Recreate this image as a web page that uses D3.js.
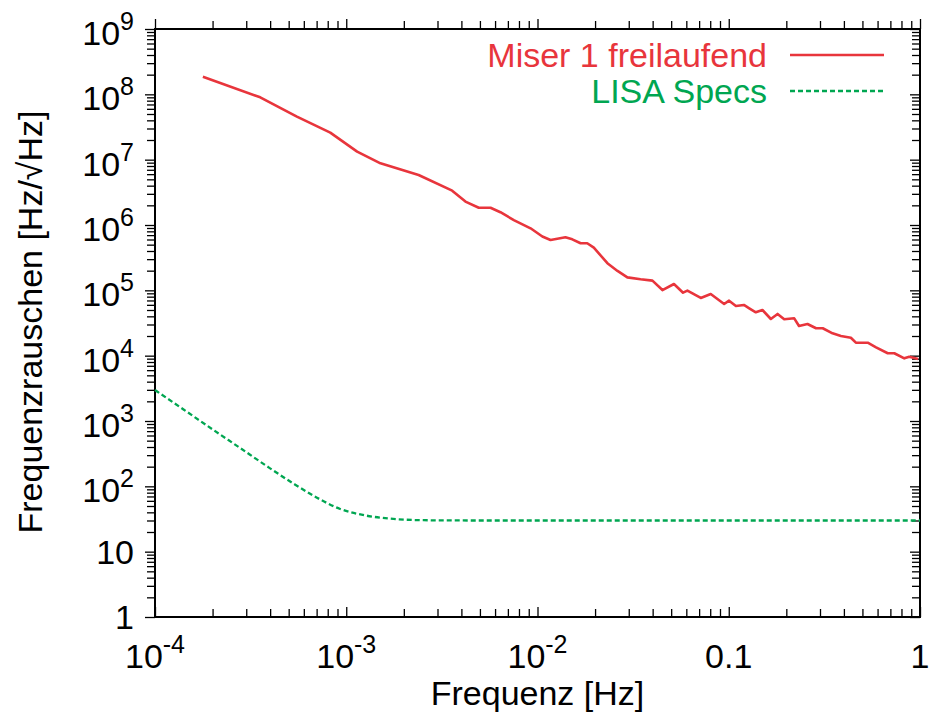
<!DOCTYPE html>
<html>
<head>
<meta charset="utf-8">
<script src="https://cdn.jsdelivr.net/npm/d3@7"></script>
<style>
  html, body { margin: 0; padding: 0; background: #fff; }
  svg { display: block; font-family: "Liberation Sans", Arial, Helvetica, sans-serif; }
</style>
</head>
<body>
<svg id="chart" width="930" height="716"></svg>
<script>
// ---- data ----
const miserFreq = [1.78e-4, 3.55e-4, 5.52e-4, 8.25e-4, 1.14e-3, 1.51e-3, 2.39e-3, 3.58e-3, 4.2e-3, 4.93e-3,
  5.68e-3, 6.4e-3, 7.52e-3, 9.2e-3, 1.06e-2, 1.17e-2, 1.40e-2, 1.52e-2, 1.68e-2, 1.82e-2,
  1.97e-2, 2.32e-2, 2.62e-2, 2.95e-2, 3.46e-2, 3.99e-2, 4.5e-2, 5.17e-2, 5.77e-2, 6.08e-2,
  7.14e-2, 8.05e-2, 9.46e-2, 0.1004, 0.109, 0.120, 0.128, 0.1385, 0.150, 0.166,
  0.180, 0.195, 0.220, 0.233, 0.258, 0.286, 0.31, 0.349, 0.386, 0.435,
  0.462, 0.533, 0.589, 0.678, 0.734, 0.828, 0.879, 0.977];
const miserNoise = [1.86e8, 9.0e7, 4.55e7, 2.59e7, 1.33e7, 8.8e6, 5.83e6, 3.35e6, 2.28e6, 1.84e6,
  1.84e6, 1.57e6, 1.19e6, 8.9e5, 6.67e5, 5.9e5, 6.49e5, 6.04e5, 5.25e5, 5.25e5,
  4.5e5, 2.6e5, 1.98e5, 1.58e5, 1.48e5, 1.41e5, 1.01e5, 1.25e5, 9.2e4, 9.9e4,
  7.64e4, 8.8e4, 6.18e4, 6.95e4, 5.76e4, 5.97e4, 5.31e4, 4.61e4, 5.0e4, 3.64e4,
  4.35e4, 3.6e4, 3.73e4, 2.85e4, 3.05e4, 2.63e4, 2.63e4, 2.2e4, 2.0e4, 1.88e4,
  1.58e4, 1.58e4, 1.34e4, 1.09e4, 1.09e4, 9.1e3, 9.65e3, 8.9e3];

const lisaFreq  = [1e-4, 1.41e-4, 2.02e-4, 2.78e-4, 3.85e-4, 5.3e-4, 7.03e-4, 9.3e-4, 1.28e-3, 1.70e-3, 2.54e-3, 5e-3, 1e-2, 0.1, 1];
const lisaNoise = [2980, 1500, 730, 388, 203, 110, 67, 45, 35.5, 32, 30.3, 30, 30, 30, 30];

const seriesNames = ["Miser 1 freilaufend", "LISA Specs"];
const xTickValues = [1e-4, 1e-3, 1e-2, 0.1, 1];
const xTickLabels = [["10", "-4"], ["10", "-3"], ["10", "-2"], ["0.1", ""], ["1", ""]];
const yTickValues = [1, 10, 1e2, 1e3, 1e4, 1e5, 1e6, 1e7, 1e8, 1e9];
const yTickLabels = [["1", ""], ["10", ""], ["10", "2"], ["10", "3"], ["10", "4"], ["10", "5"], ["10", "6"], ["10", "7"], ["10", "8"], ["10", "9"]];
const xTitle = "Frequenz [Hz]";
const yTitle = "Frequenzrauschen [Hz/\u221AHz]";

// ---- layout ----
const W = 930, H = 716;
const m = { left: 155, right: 10, top: 29, bottom: 99 };
const red = "#e8353c", green = "#00a651";
const svg = d3.select("#chart");

const x = d3.scaleLog().domain([1e-4, 1]).range([m.left, W - m.right]);
const y = d3.scaleLog().domain([1, 1e9]).range([H - m.bottom, m.top]);

function minorTicks(lo, hi) {
  const out = [];
  for (let e = Math.log10(lo); e < Math.log10(hi); e++) {
    for (let k = 2; k <= 9; k++) out.push(k * Math.pow(10, e));
  }
  return out;
}
const xMinor = minorTicks(1e-4, 1);
const yMinor = minorTicks(1, 1e9);

const tickLen = 10, minorLen = 8;
function drawAxis(axisFn, scale, values, len, transform) {
  const g = svg.append("g").attr("transform", transform)
    .call(axisFn(scale).tickValues(values).tickSize(-len).tickFormat(""));
  g.select(".domain").remove();
  g.selectAll(".tick line").attr("stroke", "#000").attr("stroke-width", 1.3);
}
const bottomT = `translate(0,${H - m.bottom})`, topT = `translate(0,${m.top})`;
const leftT = `translate(${m.left},0)`, rightT = `translate(${W - m.right},0)`;
drawAxis(d3.axisBottom, x, xTickValues, tickLen, bottomT);
drawAxis(d3.axisBottom, x, xMinor, minorLen, bottomT);
drawAxis(d3.axisTop, x, xTickValues, -tickLen, topT);
drawAxis(d3.axisTop, x, xMinor, -minorLen, topT);
drawAxis(d3.axisLeft, y, yTickValues, -tickLen, leftT);
drawAxis(d3.axisLeft, y, yMinor, -minorLen, leftT);
drawAxis(d3.axisRight, y, yTickValues, tickLen, rightT);
drawAxis(d3.axisRight, y, yMinor, minorLen, rightT);

// frame
svg.append("rect")
  .attr("x", m.left).attr("y", m.top)
  .attr("width", W - m.left - m.right).attr("height", H - m.top - m.bottom)
  .attr("fill", "none").attr("stroke", "#000").attr("stroke-width", 2);

// tick labels
const fs = 34, supFs = 25, supDy = -15;
function label(t, px, py, anchor, parts) {
  t.attr("x", px).attr("y", py).attr("text-anchor", anchor).attr("font-size", fs).attr("fill", "#000");
  t.append("tspan").text(parts[0]);
  if (parts[1]) t.append("tspan").attr("font-size", supFs).attr("dy", supDy).text(parts[1]);
}
xTickValues.forEach((v, i) => {
  label(svg.append("text"), x(v), 668, "middle", xTickLabels[i]);
});
yTickValues.forEach((v, i) => {
  const sup = !!yTickLabels[i][1];
  label(svg.append("text"), 134, y(v) + (sup ? 16 : 12), "end", yTickLabels[i]);
});

// axis titles
svg.append("text").attr("x", (m.left + W - m.right) / 2).attr("y", 705)
  .attr("text-anchor", "middle").attr("font-size", fs).text(xTitle);
svg.append("text").attr("transform", "translate(42,322) rotate(-90)")
  .attr("text-anchor", "middle").attr("font-size", fs).text(yTitle);

// lines
const line = d3.line().x(d => x(d[0])).y(d => y(d[1]));
const miserData = miserFreq.map((f, i) => [f, miserNoise[i]]);
const lisaData = lisaFreq.map((f, i) => [f, lisaNoise[i]]);
const lisaLine = d3.line().x(d => x(d[0])).y(d => y(d[1])).curve(d3.curveMonotoneX);

svg.append("path").datum(lisaData).attr("d", lisaLine)
  .attr("fill", "none").attr("stroke", green).attr("stroke-width", 2.3)
  .attr("stroke-dasharray", "5,3");
svg.append("path").datum(miserData).attr("d", line)
  .attr("fill", "none").attr("stroke", red).attr("stroke-width", 2.6)
  .attr("stroke-linejoin", "round");

// legend
const legend = [
  { name: seriesNames[0], color: red, dash: null, y: 55 },
  { name: seriesNames[1], color: green, dash: "5,3", y: 91 }
];
legend.forEach(l => {
  svg.append("text").attr("x", 767).attr("y", l.y + 12).attr("text-anchor", "end")
    .attr("font-size", fs).attr("fill", l.color).text(l.name);
  svg.append("line").attr("x1", 790).attr("x2", 884).attr("y1", l.y).attr("y2", l.y)
    .attr("stroke", l.color).attr("stroke-width", l.dash ? 2.3 : 2.6)
    .attr("stroke-dasharray", l.dash);
});
</script>
</body>
</html>
